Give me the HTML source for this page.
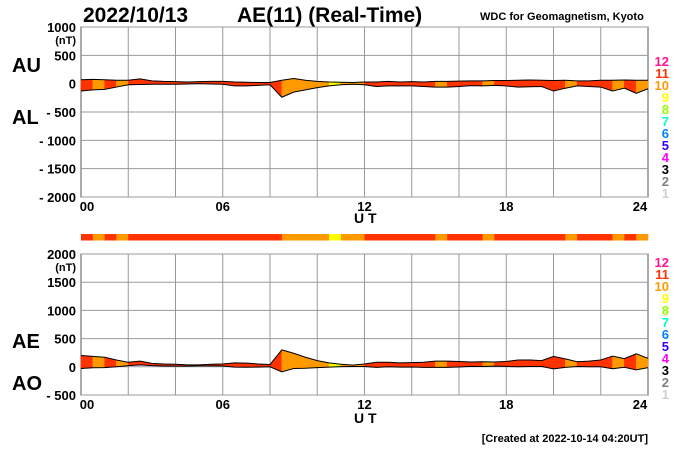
<!DOCTYPE html>
<html><head><meta charset="utf-8"><style>
body{margin:0;background:#fff}
svg{display:block;font-family:"Liberation Sans",Arial,sans-serif;font-weight:bold}
</style></head><body>
<svg id="c" width="700" height="450" viewBox="0 0 700 450">
<rect width="700" height="450" fill="#fff"/>
<text x="83" y="22" font-size="21">2022/10/13</text>
<text x="237" y="22" font-size="21">AE(11) (Real-Time)</text>
<text x="480" y="20" font-size="11">WDC for Geomagnetism, Kyoto</text>
<text x="12" y="72" font-size="20">AU</text>
<text x="12" y="124" font-size="20">AL</text>
<text x="12" y="348" font-size="20">AE</text>
<text x="12" y="390" font-size="20">AO</text>
<text x="354" y="223" font-size="14">U T</text>
<text x="354" y="423" font-size="14">U T</text>
<text x="648" y="442" font-size="11" text-anchor="end">[Created at 2022-10-14 04:20UT]</text>
<g id="top"></g><g id="bot"></g><g id="bar"></g><g id="leg"></g>
</svg>
<script>
const hours=[0,0.5,1,1.5,2,2.5,3,3.5,4,4.5,5,5.5,6,6.5,7,7.5,8,8.5,9,9.5,10,10.5,11,11.5,12,12.5,13,13.5,14,14.5,15,15.5,16,16.5,17,17.5,18,18.5,19,19.5,20,20.5,21,21.5,22,22.5,23,23.5,24];
const au=[70,75,70,60,60,85,50,40,35,30,35,40,40,30,25,20,20,60,90,60,40,30,25,20,30,30,40,30,35,30,40,40,45,50,50,55,55,60,65,60,55,60,50,50,60,60,65,60,60];
const al=[-130,-110,-100,-60,-20,-15,-10,-10,-10,-5,0,-5,-10,-40,-40,-30,-20,-240,-150,-110,-70,-40,-20,-10,-20,-50,-40,-40,-40,-50,-60,-60,-50,-35,-40,-30,-40,-60,-55,-50,-130,-80,-40,-50,-60,-130,-80,-170,-90];
const levels=[11,10,11,10,11,11,11,11,11,11,11,11,11,11,11,11,11,10,10,10,10,9,10,10,11,11,11,11,11,11,10,11,11,11,10,11,11,11,11,11,11,10,11,11,11,10,11,10];
const topTicks=[1000,500,0,-500,-1000,-1500,-2000];
const topTickLabels=["1000","500","0","- 500","- 1000","- 1500","- 2000"];
const botTicks=[2000,1500,1000,500,0,-500];
const botTickLabels=["2000","1500","1000","500","0","- 500"];
const xTicks=[0,6,12,18,24];
const xTickLabels=["00","06","12","18","24"];
const legendLevels=[12,11,10,9,8,7,6,5,4,3,2,1];
const levelColors={12:"#ff1493",11:"#ff3300",10:"#ff9900",9:"#ffff00",8:"#99ff00",7:"#00ffcc",6:"#0080ff",5:"#3300ff",4:"#ff00ff",3:"#000000",2:"#808080",1:"#d0d0d0"};
const NS="http://www.w3.org/2000/svg";
const X0=81,X1=648;
const xs=h=>X0+(X1-X0)*h/24;
function mk(t,a,p){const e=document.createElementNS(NS,t);for(const k in a)e.setAttribute(k,a[k]);p.appendChild(e);return e;}
function panel(g,top,bot,vmax,vmin,ticks,labels,upper,lower,nm){
  const ys=v=>top+(vmax-v)*(bot-top)/(vmax-vmin);
  mk('rect',{x:X0,y:top,width:X1-X0,height:bot-top,fill:'#fff',stroke:'#555'},g);
  for(let h=2;h<24;h+=2){const l=mk('line',{x1:xs(h),x2:xs(h),y1:top,y2:bot,stroke:'#999','stroke-width':1},g);}
  ticks.forEach((v,i)=>{
    const l=mk('line',{x1:X0,x2:X1,y1:ys(v),y2:ys(v),stroke:'#999'},g);
    
    
    const t=mk('text',{x:76,y:ys(v)+5,'font-size':13,'text-anchor':'end'},g);t.textContent=labels[i];
    
    
  });
  const u=mk('text',{x:76,y:ys(ticks[0])+17,'font-size':11,'text-anchor':'end'},g);u.textContent='(nT)';
  
  
  for(let i=0;i<levels.length;i++){
    const a=hours[i],b=hours[i+1];
    const p=mk('polygon',{points:`${xs(a)},${ys(upper[i])} ${xs(b)},${ys(upper[i+1])} ${xs(b)},${ys(lower[i+1])} ${xs(a)},${ys(lower[i])}`,fill:levelColors[levels[i]],stroke:levelColors[levels[i]],'stroke-width':0.5},g);
    
    
  }
  [upper,lower].forEach(s=>{
    const pl=mk('polyline',{points:hours.map((h,i)=>xs(h)+','+ys(s[i])).join(' '),fill:'none',stroke:'#000','stroke-width':1},g);
    
    
  });
  xTicks.forEach((h,i)=>{
    const t=mk('text',{x:xs(h)+(i==0?6:i==4?-8:0),y:bot+14,'font-size':13,'text-anchor':'middle'},g);t.textContent=xTickLabels[i];
    
    
  });
}
const ae=au.map((v,i)=>v-al[i]);
const ao=au.map((v,i)=>(v+al[i])/2);
panel(document.getElementById('top'),27,197,1000,-2000,topTicks,topTickLabels,au,al,'au-al');
panel(document.getElementById('bot'),254,395,2000,-500,botTicks,botTickLabels,ae,ao,'ae-ao');
const bar=document.getElementById('bar');
levels.forEach((lv,i)=>{
  const r=mk('rect',{x:xs(hours[i]),y:234,width:xs(hours[i+1])-xs(hours[i])+0.3,height:6.5,fill:levelColors[lv]},bar);
  
  
});
const leg=document.getElementById('leg');
[[66],[267]].forEach(([y0])=>{
  legendLevels.forEach((lv,i)=>{
    const t=mk('text',{x:669,y:y0+i*12,'font-size':13,'text-anchor':'end',fill:levelColors[lv]},leg);t.textContent=lv;
    
    
  });
});
</script>
</body></html>
